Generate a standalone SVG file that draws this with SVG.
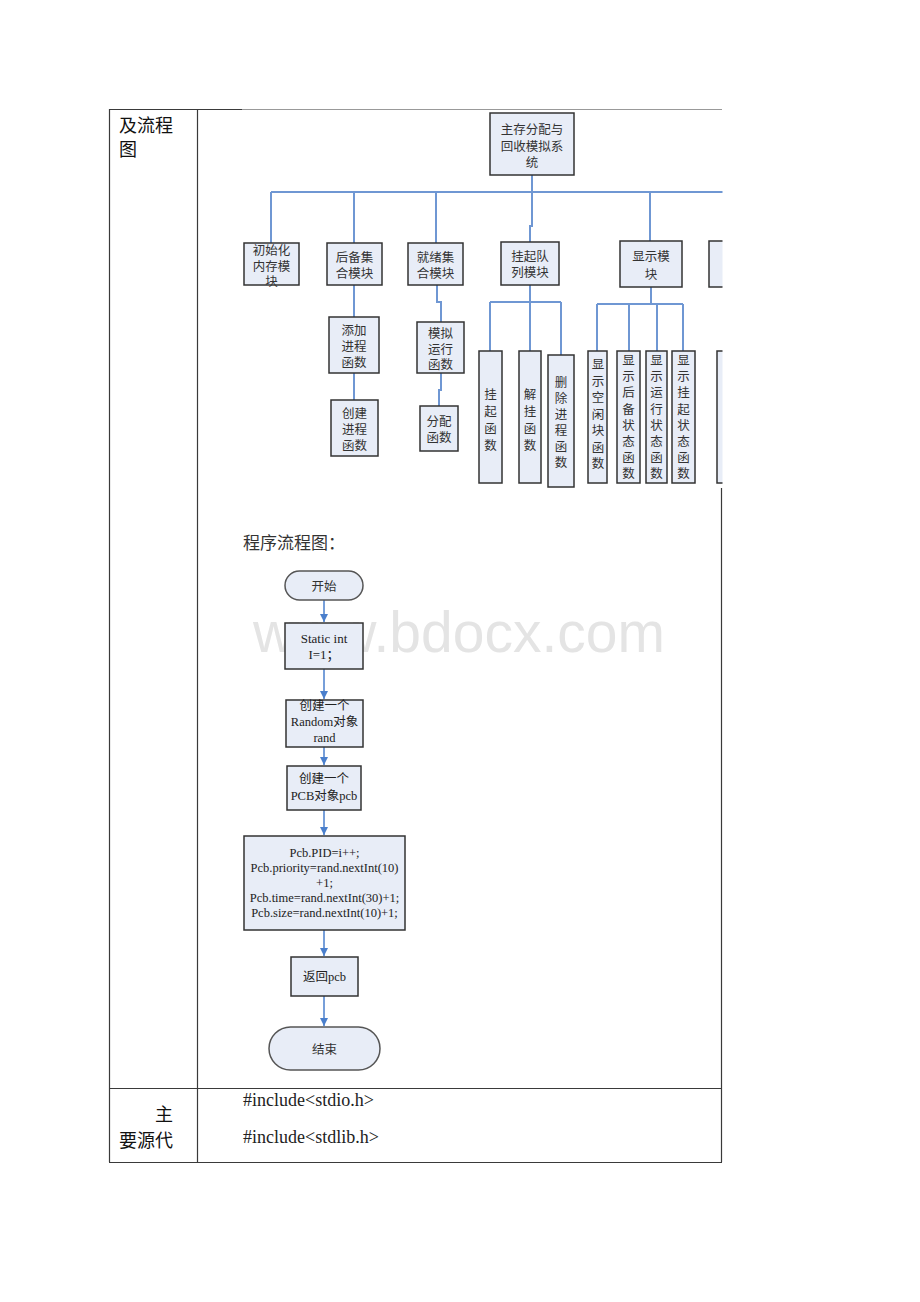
<svg xmlns="http://www.w3.org/2000/svg" width="920" height="1302" viewBox="0 0 920 1302">
<style>
.cj{font-family:"Noto Sans CJK SC","Noto Sans",sans-serif;fill:#333;}
.n{font-size:12.5px;}
.big{font-size:18px;fill:#111;}
.lt{font-family:"Liberation Serif","Noto Sans CJK SC",serif;fill:#222;}
.box{fill:#e8edf7;stroke:#333;stroke-width:1.5;}
.term{fill:#e8edf7;stroke:#555;stroke-width:1.5;}
.tree{fill:none;stroke:#6f97d3;stroke-width:2;}
.flow{fill:none;stroke:#4a7fcc;stroke-width:1.5;}
.tb{stroke:#3a3a3a;stroke-width:1.2;fill:none;}
</style>
<defs>
<marker id="ah" markerWidth="9" markerHeight="9" refX="8" refY="4" orient="auto" markerUnits="userSpaceOnUse">
<path d="M0,0 L8,4 L0,8 z" fill="#4a7fcc"/>
</marker>
<clipPath id="clipR"><rect x="0" y="0" width="722.5" height="1302"/></clipPath>
</defs>
<rect x="0" y="0" width="920" height="1302" fill="#fff"/>

<g id="table">
<line class="tb" x1="109" y1="109.5" x2="242" y2="109.5"/>
<line x1="242" y1="109.5" x2="722" y2="109.5" stroke="#999" stroke-width="1"/>
<line class="tb" x1="109.5" y1="109" x2="109.5" y2="1162"/>
<line class="tb" x1="197.5" y1="109" x2="197.5" y2="1162"/>
<line class="tb" x1="721.5" y1="488" x2="721.5" y2="1162"/>
<line class="tb" x1="109" y1="1088.5" x2="722" y2="1088.5"/>
<line class="tb" x1="109" y1="1162.5" x2="722" y2="1162.5"/>
<text class="cj big" x="119" y="124" dominant-baseline="central">及流程</text>
<text class="cj big" x="119" y="148" dominant-baseline="central">图</text>
<text class="cj big" x="155" y="1113" dominant-baseline="central">主</text>
<text class="cj big" x="119" y="1139" dominant-baseline="central">要源代</text>
<text class="lt" font-size="18" x="243" y="1100" dominant-baseline="central">#include&lt;stdio.h&gt;</text>
<text class="lt" font-size="18" x="243" y="1137" dominant-baseline="central">#include&lt;stdlib.h&gt;</text>
<text class="cj" font-size="17" fill="#111" x="243" y="541" dominant-baseline="central">程序流程图：</text>
</g>

<g id="watermark">
<text x="253" y="652" font-family="Liberation Sans,Arial,sans-serif" font-size="57" fill="#e4e4e4" textLength="412" lengthAdjust="spacingAndGlyphs">www.bdocx.com</text>
</g>

<g id="connectors">
<g clip-path="url(#clipR)">
<path class="tree" d="M532,175 V192 M271,192 H730 M271,192 V243 M354,192 V243 M436,192 V243 M532,192 V226 H530 V242 M650,192 V241"/>
</g>
<path class="tree" d="M354,285 V317 M354,373 V400"/>
<path class="tree" d="M437,285 V302 H441 V322 M441,373 V390 H439 V406"/>
<path class="tree" d="M530,285 V302 M490,302 H561 M490,302 V351 M530,302 V351 M561,302 V355"/>
<path class="tree" d="M651,287 V304 M597,304 H683 M597,304 V351 M629,304 V351 M657,304 V351 M683,304 V351"/>
<path class="flow" d="M324,600 V622" marker-end="url(#ah)"/>
<path class="flow" d="M324,669 V699" marker-end="url(#ah)"/>
<path class="flow" d="M324,747 V765" marker-end="url(#ah)"/>
<path class="flow" d="M324,810 V835" marker-end="url(#ah)"/>
<path class="flow" d="M324,930 V956" marker-end="url(#ah)"/>
<path class="flow" d="M324,996 V1026" marker-end="url(#ah)"/>
</g>

<g id="root">
<rect class="box" x="490" y="113" width="84" height="62"/>
<text class="cj n" text-anchor="middle" dominant-baseline="central"><tspan x="532" y="128">主存分配与</tspan><tspan x="532" y="145">回收模拟系</tspan><tspan x="532" y="161">统</tspan></text>
</g>
<g id="init">
<rect class="box" x="244" y="243" width="55" height="42"/>
<text class="cj n" text-anchor="middle" dominant-baseline="central"><tspan x="271.5" y="249">初始化</tspan><tspan x="271.5" y="265">内存模</tspan><tspan x="271.5" y="280">块</tspan></text>
</g>
<g id="backup">
<rect class="box" x="327" y="243" width="55" height="42"/>
<text class="cj n" text-anchor="middle" dominant-baseline="central"><tspan x="354.5" y="256">后备集</tspan><tspan x="354.5" y="272">合模块</tspan></text>
</g>
<g id="ready">
<rect class="box" x="408" y="243" width="55" height="42"/>
<text class="cj n" text-anchor="middle" dominant-baseline="central"><tspan x="435.5" y="256">就绪集</tspan><tspan x="435.5" y="272">合模块</tspan></text>
</g>
<g id="suspend">
<rect class="box" x="501" y="242" width="58" height="43"/>
<text class="cj n" text-anchor="middle" dominant-baseline="central"><tspan x="530" y="255">挂起队</tspan><tspan x="530" y="271">列模块</tspan></text>
</g>
<g id="display">
<rect class="box" x="620" y="241" width="62" height="46"/>
<text class="cj n" text-anchor="middle" dominant-baseline="central"><tspan x="651" y="255">显示模</tspan><tspan x="651" y="273">块</tspan></text>
</g>
<g id="clipped1" clip-path="url(#clipR)">
<rect class="box" x="709" y="241" width="50" height="46"/>
</g>
<g id="add">
<rect class="box" x="329" y="317" width="50" height="56"/>
<text class="cj n" text-anchor="middle" dominant-baseline="central"><tspan x="354" y="329">添加</tspan><tspan x="354" y="345">进程</tspan><tspan x="354" y="361">函数</tspan></text>
</g>
<g id="create">
<rect class="box" x="331" y="400" width="47" height="56"/>
<text class="cj n" text-anchor="middle" dominant-baseline="central"><tspan x="354.5" y="412">创建</tspan><tspan x="354.5" y="428">进程</tspan><tspan x="354.5" y="444">函数</tspan></text>
</g>
<g id="simrun">
<rect class="box" x="417" y="322" width="47" height="51"/>
<text class="cj n" text-anchor="middle" dominant-baseline="central"><tspan x="440.5" y="332">模拟</tspan><tspan x="440.5" y="348">运行</tspan><tspan x="440.5" y="363">函数</tspan></text>
</g>
<g id="alloc">
<rect class="box" x="420" y="406" width="38" height="45"/>
<text class="cj n" text-anchor="middle" dominant-baseline="central"><tspan x="439" y="420">分配</tspan><tspan x="439" y="436">函数</tspan></text>
</g>
<g id="susfn">
<rect class="box" x="479" y="351" width="23" height="132"/>
<text class="cj n" text-anchor="middle" dominant-baseline="central"><tspan x="490.5" y="393">挂</tspan><tspan x="490.5" y="410">起</tspan><tspan x="490.5" y="427">函</tspan><tspan x="490.5" y="444">数</tspan></text>
</g>
<g id="unsusfn">
<rect class="box" x="519" y="351" width="22" height="132"/>
<text class="cj n" text-anchor="middle" dominant-baseline="central"><tspan x="530" y="393">解</tspan><tspan x="530" y="410">挂</tspan><tspan x="530" y="427">函</tspan><tspan x="530" y="444">数</tspan></text>
</g>
<g id="delfn">
<rect class="box" x="548" y="355" width="26" height="132"/>
<text class="cj n" text-anchor="middle" dominant-baseline="central"><tspan x="561" y="381">删</tspan><tspan x="561" y="397">除</tspan><tspan x="561" y="413">进</tspan><tspan x="561" y="429">程</tspan><tspan x="561" y="445">函</tspan><tspan x="561" y="461">数</tspan></text>
</g>
<g id="showfree">
<rect class="box" x="588" y="351" width="19" height="132"/>
<text class="cj n" text-anchor="middle" dominant-baseline="central"><tspan x="598" y="363">显</tspan><tspan x="598" y="380">示</tspan><tspan x="598" y="396">空</tspan><tspan x="598" y="413">闲</tspan><tspan x="598" y="429">块</tspan><tspan x="598" y="446">函</tspan><tspan x="598" y="462">数</tspan></text>
</g>
<g id="showbackup">
<rect class="box" x="617" y="351" width="23" height="132"/>
<text class="cj n" text-anchor="middle" dominant-baseline="central"><tspan x="628.5" y="359">显</tspan><tspan x="628.5" y="375">示</tspan><tspan x="628.5" y="391">后</tspan><tspan x="628.5" y="408">备</tspan><tspan x="628.5" y="424">状</tspan><tspan x="628.5" y="440">态</tspan><tspan x="628.5" y="456">函</tspan><tspan x="628.5" y="472">数</tspan></text>
</g>
<g id="showrun">
<rect class="box" x="646" y="351" width="21" height="132"/>
<text class="cj n" text-anchor="middle" dominant-baseline="central"><tspan x="656.5" y="359">显</tspan><tspan x="656.5" y="375">示</tspan><tspan x="656.5" y="391">运</tspan><tspan x="656.5" y="408">行</tspan><tspan x="656.5" y="424">状</tspan><tspan x="656.5" y="440">态</tspan><tspan x="656.5" y="456">函</tspan><tspan x="656.5" y="472">数</tspan></text>
</g>
<g id="showsus">
<rect class="box" x="672" y="351" width="23" height="132"/>
<text class="cj n" text-anchor="middle" dominant-baseline="central"><tspan x="683.5" y="359">显</tspan><tspan x="683.5" y="375">示</tspan><tspan x="683.5" y="391">挂</tspan><tspan x="683.5" y="408">起</tspan><tspan x="683.5" y="424">状</tspan><tspan x="683.5" y="440">态</tspan><tspan x="683.5" y="456">函</tspan><tspan x="683.5" y="472">数</tspan></text>
</g>
<g id="clipped2" clip-path="url(#clipR)">
<rect class="box" x="717" y="351" width="30" height="132"/>
</g>

<g id="start">
<rect class="term" x="285" y="571" width="78" height="29" rx="14.5"/>
<text class="cj n" x="324" y="585.5" text-anchor="middle" dominant-baseline="central">开始</text>
</g>
<g id="static">
<rect class="box" x="285" y="623" width="78" height="46"/>
<text class="lt" font-size="13" text-anchor="middle" dominant-baseline="central"><tspan x="324" y="638">Static int</tspan><tspan x="324" y="654">I=1；</tspan></text>
</g>
<g id="random">
<rect class="box" x="286" y="700" width="77" height="47"/>
<text class="lt" font-size="12.5" text-anchor="middle" dominant-baseline="central"><tspan x="324.5" y="706">创建一个</tspan><tspan x="324.5" y="722">Random对象</tspan><tspan x="324.5" y="738">rand</tspan></text>
</g>
<g id="pcbobj">
<rect class="box" x="287" y="766" width="74" height="44"/>
<text class="lt" font-size="12.5" text-anchor="middle" dominant-baseline="central"><tspan x="324" y="779">创建一个</tspan><tspan x="324" y="796">PCB对象pcb</tspan></text>
</g>
<g id="assign">
<rect class="box" x="244" y="836" width="161" height="94"/>
<text class="lt" font-size="12.5" text-anchor="middle" dominant-baseline="central"><tspan x="324.5" y="853">Pcb.PID=i++;</tspan><tspan x="324.5" y="868">Pcb.priority=rand.nextInt(10)</tspan><tspan x="324.5" y="883">+1;</tspan><tspan x="324.5" y="898">Pcb.time=rand.nextInt(30)+1;</tspan><tspan x="324.5" y="913">Pcb.size=rand.nextInt(10)+1;</tspan></text>
</g>
<g id="return">
<rect class="box" x="291" y="957" width="67" height="39"/>
<text class="lt" font-size="12.5" x="324.5" y="976.5" text-anchor="middle" dominant-baseline="central">返回pcb</text>
</g>
<g id="end">
<rect class="term" x="269" y="1027" width="111" height="43" rx="21.5"/>
<text class="cj n" x="324.5" y="1048.5" text-anchor="middle" dominant-baseline="central">结束</text>
</g>
</svg>
